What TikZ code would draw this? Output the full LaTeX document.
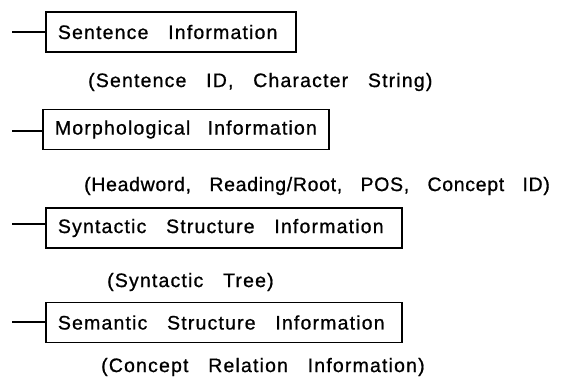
\documentclass[tikz,border=0pt]{standalone}
\usepackage{fontspec}
\newfontfamily\figfont[LetterSpace=6,WordSpace=3,FakeBold=0.8]{Liberation Sans}
\newcommand\figsize{\fontsize{19.5}{22}\selectfont}
\begin{document}
\begin{tikzpicture}[x=1pt,y=-1pt,
  infobox/.style={draw, line width=1.8pt, minimum height=40pt, inner xsep=12pt,
    anchor=west, align=left, font=\figfont\figsize,
    execute at begin node={\spaceskip=0pt\xspaceskip=0pt}},
  infolabel/.style={anchor=west, inner sep=0pt, font=\figfont\figsize},
  tick/.style={line width=1.8pt}]
\useasboundingbox (0,0) rectangle (572,381);
% information boxes
\node[infobox, text width=226pt] (s1) at (45,32) {Sentence Information};
\node[infobox, text width=262pt] (s2) at (42,129.5) {Morphological Information};
\node[infobox, text width=332pt] (s3) at (45,228) {Syntactic Structure Information};
\node[infobox, text width=332pt] (s4) at (45,322.5) {Semantic Structure Information};
% contents of each box
\node[infolabel] (c1) at (88,82) {(Sentence ID, Character String)};
\node[infolabel] (c2) at (84,186) {\addfontfeatures{LetterSpace=3.5}(Headword, Reading/Root, POS, Concept ID)};
\node[infolabel] (c3) at (107,282) {(Syntactic Tree)};
\node[infolabel] (c4) at (101,367) {(Concept Relation Information)};
% lead-in strokes
\coordinate (t1) at (12,32);
\coordinate (t2) at (12,131);
\coordinate (t3) at (12,224);
\coordinate (t4) at (12,322);
\foreach \i in {1,...,4}
  \draw[tick] (t\i) -- (t\i -| s\i.west);
\end{tikzpicture}
\end{document}
